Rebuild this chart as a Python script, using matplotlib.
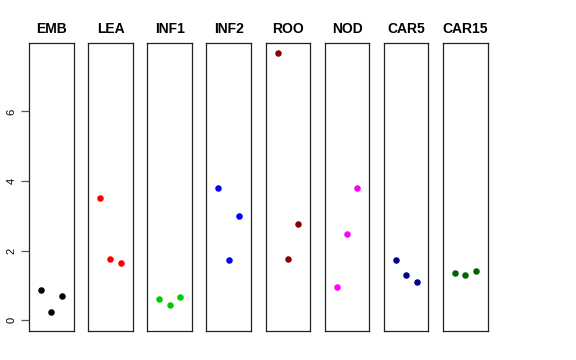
import numpy as np
import matplotlib
matplotlib.use("Agg")
import matplotlib.pyplot as plt

plt.rcParams["font.family"] = ["Liberation Sans", "DejaVu Sans"]

groups = ["EMB", "LEA", "INF1", "INF2", "ROO", "NOD", "CAR5", "CAR15"]
colors = ["black", "red", "#00CD00", "blue", "#8B0000", "magenta", "#00008B", "#006400"]
emb = [0.86, 0.24, 0.70]
lea = [3.52, 1.77, 1.65]
inf1 = [0.60, 0.45, 0.67]
inf2 = [3.81, 1.73, 2.99]
roo = [7.67, 1.75, 2.76]
nod = [0.97, 2.47, 3.81]
car5 = [1.74, 1.30, 1.11]
car15 = [1.35, 1.29, 1.42]
values = [emb, lea, inf1, inf2, roo, nod, car5, car15]
reps = [1, 2, 3]
yticks = [0, 2, 4, 6]

W, H = 576, 360
fig = plt.figure(figsize=(W / 100, H / 100), dpi=100)

ymax = max(max(v) for v in values)
ylo, yhi = 0 - 0.04 * ymax, ymax + 0.04 * ymax

left0, pw, step = 29.0, 44.6, 59.15
top, bottom = 42.7, 331.0
for i, (g, c, v) in enumerate(zip(groups, colors, values)):
    x0 = left0 + i * step
    ax = fig.add_axes([x0 / W, 1 - bottom / H, pw / W, (bottom - top) / H])
    ax.scatter(reps, v, s=22, color=c, zorder=3, linewidths=0)
    ax.set_xlim(-0.16, 4.16)
    ax.set_ylim(ylo, yhi)
    ax.set_xticks([])
    for s in ax.spines.values():
        s.set_color("#222222")
        s.set_linewidth(0.9)
    ax.set_title(g, fontsize=10, fontweight="bold", pad=7)
    if i == 0:
        ax.set_yticks(yticks)
        ax.set_yticklabels([str(t) for t in yticks], rotation=90, va="center", fontsize=8)
        ax.tick_params(axis="y", length=6, width=0.9, color="#555555", pad=3)
        ax.spines["left"].set_bounds(ylo, yhi)
    else:
        ax.set_yticks([])

fig.savefig("out.png", dpi=100)
